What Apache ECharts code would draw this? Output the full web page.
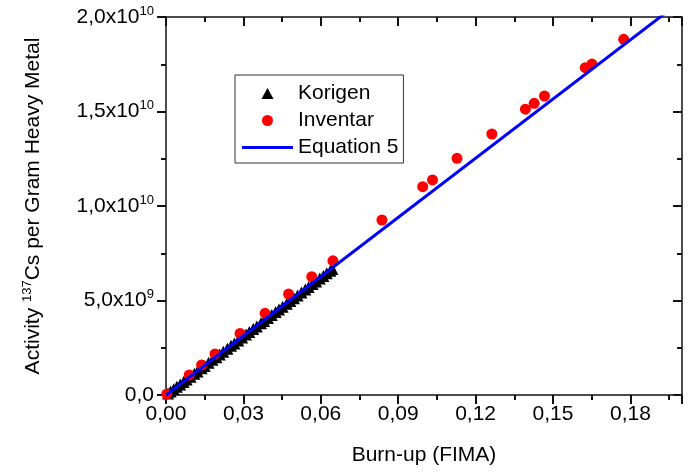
<!DOCTYPE html>
<html>
<head>
<meta charset="utf-8">
<script src="https://cdn.jsdelivr.net/npm/echarts@6/dist/echarts.min.js"></script>
<style>html,body{margin:0;padding:0;background:#fff;}#c{width:690px;height:473px;}</style>
</head>
<body>
<div id="c"></div>
<script>
// Korigen (black triangles): burn-up (FIMA) and activity (Bq/gHM)
var korigenX = [0.0008,0.0018,0.0030,0.0042,0.0055,0.0068,0.0080,0.0095,0.0110,0.0122,0.0138,0.0150,0.0165,0.0180,0.0195,0.0208,0.0222,0.0238,0.0252,0.0265,0.0280,0.0295,0.0310,0.0323,0.0338,0.0352,0.0368,0.0380,0.0395,0.0410,0.0425,0.0438,0.0452,0.0468,0.0482,0.0496,0.0510,0.0525,0.0540,0.0553,0.0568,0.0582,0.0596,0.0610,0.0623,0.0637,0.0645];
var korigenY = [0.08e9,0.18e9,0.30e9,0.43e9,0.56e9,0.69e9,0.82e9,0.97e9,1.13e9,1.25e9,1.42e9,1.54e9,1.70e9,1.86e9,2.00e9,2.14e9,2.29e9,2.45e9,2.60e9,2.73e9,2.89e9,3.04e9,3.20e9,3.33e9,3.49e9,3.63e9,3.80e9,3.92e9,4.08e9,4.23e9,4.39e9,4.52e9,4.67e9,4.83e9,4.98e9,5.12e9,5.27e9,5.42e9,5.58e9,5.71e9,5.87e9,6.01e9,6.16e9,6.30e9,6.44e9,6.58e9,6.67e9];
// Inventar (red circles)
var inventarX = [0.0003,0.0090,0.0138,0.0190,0.0287,0.0384,0.0475,0.0565,0.0647,0.0837,0.0995,0.1033,0.1128,0.1263,0.1393,0.1427,0.1467,0.1625,0.1651,0.1774];
var inventarY = [0.05e9,1.06e9,1.59e9,2.17e9,3.26e9,4.32e9,5.34e9,6.26e9,7.10e9,9.26e9,11.02e9,11.38e9,12.52e9,13.81e9,15.12e9,15.43e9,15.82e9,17.32e9,17.51e9,18.82e9];
// Equation 5 (blue line) end points
var equationX = [0, 0.2];
var equationY = [0, 2.088e10];
// Tick labels
var xTickValues = [0, 0.03, 0.06, 0.09, 0.12, 0.15, 0.18];
var xTickLabels = ['0,00','0,03','0,06','0,09','0,12','0,15','0,18'];
var yTickValues = [0, 5e9, 1e10, 1.5e10, 2e10];
var yTickMantissa = ['0,0','5,0','1,0','1,5','2,0'];
var yTickExponent = ['','9','10','10','10'];

function zip(a, b) { return a.map(function (v, i) { return [v, b[i]]; }); }

var FONT = 'Liberation Sans, Arial, sans-serif';
var FS = 21;
var AX = '#111';

function xFmt(v) {
  for (var i = 0; i < xTickValues.length; i++) {
    if (Math.abs(v - xTickValues[i]) < 1e-9) return xTickLabels[i];
  }
  return '';
}
function yFmt(v) {
  for (var i = 0; i < yTickValues.length; i++) {
    if (Math.abs(v - yTickValues[i]) < 1) {
      if (yTickExponent[i] === '') return yTickMantissa[i];
      return yTickMantissa[i] + 'x10{sup|' + yTickExponent[i] + '}';
    }
  }
  return '';
}
function axisLine() { return {show: true, onZero: false, lineStyle: {color: AX, width: 1.5}}; }
function tick(inside) { return {show: true, inside: inside, length: 9, lineStyle: {color: AX, width: 2}}; }
function minor() { return {show: true, splitNumber: 2, length: 5, lineStyle: {color: AX, width: 2}}; }

var chart = echarts.init(document.getElementById('c'), null, {renderer: 'canvas'});
chart.setOption({
  animation: false,
  backgroundColor: '#fff',
  textStyle: {fontFamily: FONT},
  grid: {left: 166, top: 17, right: 8, bottom: 78, containLabel: false},
  legend: {
    orient: 'vertical',
    left: 235, top: 75,
    padding: [8, 5, 5, 7],
    itemWidth: 51, itemHeight: 11, itemGap: 6,
    borderColor: '#333', borderWidth: 1,
    backgroundColor: '#fff',
    textStyle: {fontFamily: FONT, fontSize: FS, color: '#000'},
    data: [
      {name: 'Korigen', icon: 'path://M0,-10L11,10L-11,10Z'},
      {name: 'Inventar', icon: 'circle'},
      {name: 'Equation 5', icon: 'path://M0,0L51,0L51,3L0,3Z'}
    ]
  },
  xAxis: [{
    type: 'value', position: 'bottom', min: 0, max: 0.2, interval: 0.03,
    axisLine: axisLine(), axisTick: tick(false), minorTick: minor(),
    splitLine: {show: false},
    axisLabel: {formatter: xFmt, fontSize: FS, color: '#000', margin: 9, fontFamily: FONT, showMaxLabel: false},
    name: 'Burn-up (FIMA)', nameLocation: 'middle', nameGap: 50,
    nameTextStyle: {fontSize: FS, color: '#000', fontFamily: FONT}
  }, {
    type: 'value', position: 'top', min: 0, max: 0.2, interval: 0.03,
    axisLine: axisLine(), axisTick: tick(true), minorTick: minor(),
    splitLine: {show: false},
    axisLabel: {show: false}
  }],
  yAxis: [{
    type: 'value', position: 'left', min: 0, max: 2e10, interval: 5e9,
    axisLine: axisLine(), axisTick: tick(false), minorTick: minor(),
    splitLine: {show: false},
    axisLabel: {
      formatter: yFmt, fontSize: FS, color: '#000', margin: 12, fontFamily: FONT,
      rich: {sup: {fontSize: 13, verticalAlign: 'top', padding: [0, 0, 12, 0], color: '#000', fontFamily: FONT}}
    },
    name: 'Activity {sup|137}Cs per Gram Heavy Metal', nameLocation: 'middle', nameGap: 120,
    nameTextStyle: {
      fontSize: FS, color: '#000', fontFamily: FONT,
      rich: {sup: {fontSize: 13, padding: [0, 0, 12, 0], color: '#000', fontFamily: FONT}}
    }
  }, {
    type: 'value', position: 'right', min: 0, max: 2e10, interval: 5e9,
    axisLine: axisLine(), axisTick: tick(true), minorTick: minor(),
    splitLine: {show: false},
    axisLabel: {show: false}
  }],
  series: [{
    name: 'Korigen', type: 'scatter', xAxisIndex: 0, yAxisIndex: 0,
    symbol: 'triangle', symbolSize: 12,
    itemStyle: {color: '#000', opacity: 1},
    data: zip(korigenX, korigenY)
  }, {
    name: 'Inventar', type: 'scatter', xAxisIndex: 1, yAxisIndex: 1,
    symbol: 'circle', symbolSize: 11,
    itemStyle: {color: '#ff0000', opacity: 1},
    data: zip(inventarX, inventarY)
  }, {
    name: 'Equation 5', type: 'line', xAxisIndex: 0, yAxisIndex: 0,
    showSymbol: false, symbol: 'none', clip: true,
    lineStyle: {color: '#0000ff', width: 3},
    itemStyle: {color: '#0000ff'},
    data: zip(equationX, equationY)
  }]
});
</script>
</body>
</html>
